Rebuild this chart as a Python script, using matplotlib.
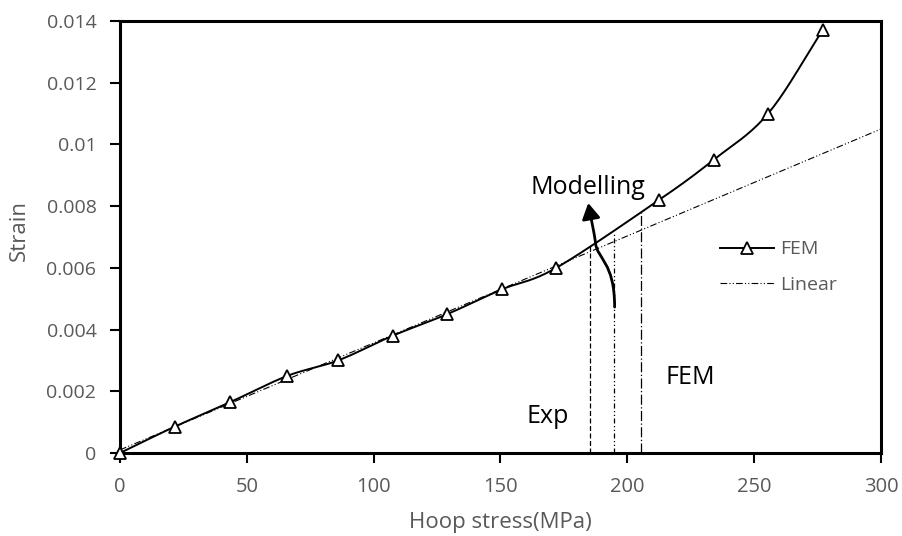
import numpy as np
import matplotlib.pyplot as plt
from matplotlib.path import Path
from matplotlib.patches import FancyArrowPatch

# --- DATA ---
stress = [0, 21.5, 43.5, 66, 86, 107.5, 129, 150.5, 172, 212.5, 234, 255.5, 277]
strain = [0, 0.00085, 0.00165, 0.0025, 0.003, 0.0038, 0.0045, 0.0053, 0.006,
          0.0082, 0.0095, 0.011, 0.0137]
linear_x = [0, 300]
linear_y = [0.0001, 0.0105]

# vertical markers: (x, top y)
exp_line = (185.3, 0.00674)
mod_line = (194.7, 0.00716)
fem_line = (205.4, 0.0078)

xticks = [0, 50, 100, 150, 200, 250, 300]
yticks = [0, 0.002, 0.004, 0.006, 0.008, 0.01, 0.012, 0.014]
ytick_labels = ['0', '0.002', '0.004', '0.006', '0.008', '0.01', '0.012', '0.014']


def smooth(xs, ys, n=20):
    # catmull-rom curve through the points, like Excel's smoothed line
    xs = np.array(xs, float)
    ys = np.array(ys, float)
    px = np.concatenate([[2 * xs[0] - xs[1]], xs, [2 * xs[-1] - xs[-2]]])
    py = np.concatenate([[2 * ys[0] - ys[1]], ys, [2 * ys[-1] - ys[-2]]])
    ox, oy = [], []
    t = np.linspace(0, 1, n, endpoint=False)
    for i in range(1, len(px) - 2):
        for p, o in ((px, ox), (py, oy)):
            p0, p1, p2, p3 = p[i - 1], p[i], p[i + 1], p[i + 2]
            o.extend(0.5 * (2 * p1 + (-p0 + p2) * t + (2 * p0 - 5 * p1 + 4 * p2 - p3) * t ** 2
                            + (-p0 + 3 * p1 - 3 * p2 + p3) * t ** 3))
    ox.append(xs[-1])
    oy.append(ys[-1])
    return ox, oy


plt.rcParams['font.family'] = ['Open Sans', 'DejaVu Sans']
grey = '#595959'
dashdot = (0, (6, 2, 1, 2, 1, 2))

fig = plt.figure(figsize=(9.03, 5.36), dpi=100)
ax = fig.add_axes([0.1329, 0.1549, 0.8427, 0.8059])

sx, sy = smooth(stress, strain)
ax.plot(sx, sy, color='black', lw=1.4, zorder=3)
ax.plot(stress, strain, linestyle='none', marker='^', ms=9, mfc='white', mec='black',
        mew=1.3, zorder=4, clip_on=False)
ax.plot(linear_x, linear_y, color='black', lw=0.8, linestyle=dashdot, zorder=2)

# legend entries as proxies
h1, = ax.plot([], [], color='black', lw=1.4, marker='^', ms=9, mfc='white', mec='black', mew=1.3)
h2, = ax.plot([], [], color='black', lw=0.8, linestyle=dashdot)
leg = ax.legend([h1, h2], ['FEM', 'Linear'], loc='center left', bbox_to_anchor=(0.765, 0.43),
                frameon=False, fontsize=14, handlelength=2.8, labelspacing=0.9, handletextpad=0.3)
for t in leg.get_texts():
    t.set_color(grey)

ax.plot([exp_line[0]] * 2, [0, exp_line[1]], color='black', lw=0.9, linestyle=(0, (4, 2)))
ax.plot([mod_line[0]] * 2, [0, mod_line[1]], color='black', lw=0.9, linestyle=(0, (4, 2, 1, 2, 1, 2)))
ax.plot([fem_line[0]] * 2, [0, fem_line[1]], color='black', lw=0.9, linestyle=(0, (8, 2, 1, 2)))

verts = [(195.0, 0.00473), (195.0, 0.0062), (188.0, 0.0063), (187.5, 0.0068), (186.8, 0.0072),
         (185.7, 0.0076), (184.6, 0.0081)]
codes = [Path.MOVETO, Path.CURVE4, Path.CURVE4, Path.CURVE4, Path.CURVE4, Path.CURVE4, Path.CURVE4]
arrow = FancyArrowPatch(path=Path(verts, codes), arrowstyle='-|>,head_length=9.5,head_width=5.5',
                        color='black', lw=2, zorder=5)
ax.add_patch(arrow)

ax.text(184.5, 0.00862, 'Modelling', fontsize=18, ha='center', va='center', color='black')
ax.text(168.7, 0.00117, 'Exp', fontsize=18, ha='center', va='center', color='black')
ax.text(224.7, 0.00246, 'FEM', fontsize=18, ha='center', va='center', color='black')

ax.set_xlim(0, 300)
ax.set_ylim(0, 0.014)
ax.set_xticks(xticks)
ax.set_yticks(yticks)
ax.set_yticklabels(ytick_labels)
for s in ax.spines.values():
    s.set_linewidth(2.2)
    s.set_color('black')
ax.tick_params(axis='both', direction='out', length=7, width=1.5, colors='black',
               labelcolor=grey, labelsize=14)
ax.tick_params(axis='x', pad=10, labelsize=14.5)
ax.tick_params(axis='y', pad=10)

ax.set_xlabel('Hoop stress(MPa)', fontsize=16, color=grey)
ax.set_ylabel('Strain', fontsize=16, color=grey)
ax.xaxis.set_label_coords(0.4993, -0.162)
ax.xaxis.label.set_va('center')
ax.yaxis.set_label_coords(-0.1327, 0.516)
ax.yaxis.label.set_va('center')

fig.savefig('out.png', dpi=100)
